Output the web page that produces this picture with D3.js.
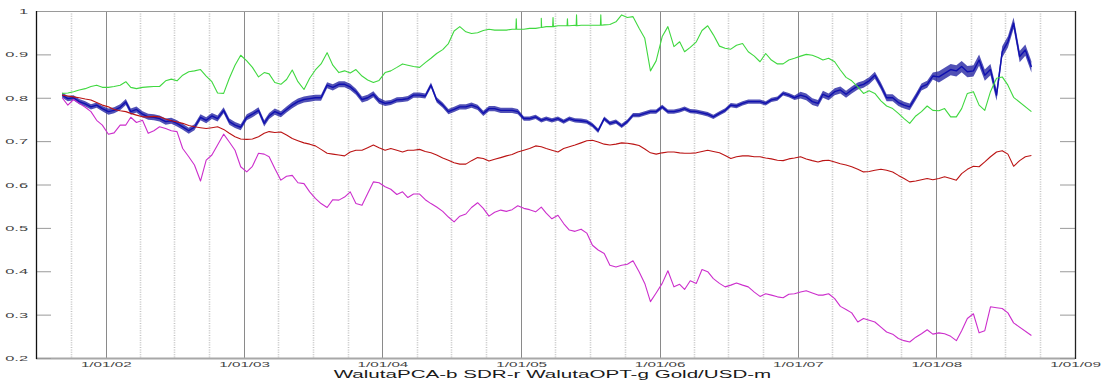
<!DOCTYPE html>
<html>
<head>
<meta charset="utf-8">
<script src="https://cdn.jsdelivr.net/npm/d3@7"></script>
<style>
  html, body { margin: 0; padding: 0; background: #fff; }
  svg { display: block; }
</style>
</head>
<body>
<svg id="chart" width="1106" height="388"></svg>
<script>
// Sampling dates: 8th and 23rd of every month, Sep 2001 .. Sep 2008
const dates = [];
for (let k = 0; k <= 84; k++) {
  dates.push(new Date(Date.UTC(2001, 8 + k, 8)));
  if (k < 84) dates.push(new Date(Date.UTC(2001, 8 + k, 23)));
}

const walutaPCA = [
  .806,.798,.800,.791,.786,.779,.783,.775,.768,.771,
  .778,.790,.768,.773,.762,.756,.755,.752,.745,.747,
  .741,.733,.724,.732,.755,.748,.758,.752,.771,.745,
  .737,.732,.755,.762,.771,.741,.758,.768,.762,.773,
  .783,.791,.796,.798,.800,.800,.829,.824,.831,.831,
  .825,.814,.796,.800,.808,.793,.787,.789,.795,.796,
  .798,.806,.806,.804,.829,.795,.783,.768,.773,.779,
  .779,.783,.778,.764,.775,.775,.771,.771,.771,.768,
  .752,.752,.756,.748,.752,.748,.752,.745,.752,.748,
  .747,.745,.737,.724,.752,.741,.745,.735,.745,.760,
  .760,.764,.768,.768,.779,.768,.768,.771,.775,.769,
  .768,.765,.762,.756,.764,.771,.783,.781,.787,.791,
  .791,.791,.787,.795,.798,.810,.806,.800,.806,.802,
  .791,.787,.808,.802,.814,.818,.808,.818,.827,.831,
  .839,.852,.827,.800,.800,.789,.783,.779,.802,.825,
  .831,.850,.848,.856,.865,.862,.872,.860,.862,.887,
  .852,.865,.806,.906,.929,.972,.895,.910,.871
];

// Typical day-to-day swing of the PCA basket around its level, by year
const pcaSwingYears = [2001, 2002, 2003, 2004, 2005, 2006, 2007, 2008];
const pcaSwing = [.006, .007, .007, .006, .005, .005, .008, .013];

const sdr = [
  .806,.804,.802,.800,.797,.795,.789,.783,.779,.773,
  .770,.768,.764,.760,.756,.756,.757,.756,.751,.747,
  .744,.741,.736,.733,.731,.729,.731,.733,.727,.718,
  .710,.705,.704,.705,.710,.718,.722,.720,.721,.714,
  .706,.701,.696,.693,.689,.681,.672,.670,.668,.666,
  .675,.679,.679,.685,.691,.685,.679,.683,.679,.675,
  .679,.679,.681,.676,.673,.668,.661,.656,.650,.647,
  .647,.655,.662,.660,.654,.658,.662,.666,.669,.675,
  .679,.683,.689,.687,.683,.679,.675,.683,.687,.691,
  .696,.701,.702,.698,.693,.691,.693,.696,.695,.693,
  .690,.682,.673,.670,.673,.675,.675,.673,.672,.672,
  .673,.676,.679,.676,.673,.667,.660,.664,.666,.666,
  .664,.664,.661,.659,.656,.655,.659,.661,.664,.659,
  .655,.652,.655,.656,.652,.648,.645,.641,.635,.629,
  .630,.633,.635,.633,.629,.621,.614,.606,.608,.611,
  .614,.611,.614,.618,.614,.610,.625,.635,.642,.641,
  .652,.664,.675,.678,.670,.642,.655,.664,.667
];

const walutaOPT = [
  .810,.811,.814,.818,.821,.826,.829,.824,.824,.826,
  .829,.837,.824,.821,.824,.825,.826,.826,.839,.843,
  .839,.852,.860,.862,.865,.850,.837,.811,.810,.845,
  .875,.898,.885,.870,.848,.858,.855,.835,.831,.842,
  .864,.837,.819,.845,.864,.878,.904,.875,.858,.862,
  .857,.865,.850,.841,.835,.840,.858,.862,.870,.878,
  .875,.872,.870,.881,.891,.902,.911,.925,.954,.964,
  .952,.948,.950,.955,.958,.956,.956,.956,.958,.958,
  .958,.960,.960,.962,.964,.964,.966,.966,.966,.967,
  .967,.967,.967,.967,.968,.969,.975,.991,.985,.987,
  .960,.937,.862,.885,.941,.964,.918,.929,.906,.916,
  .929,.955,.966,.945,.919,.914,.912,.921,.925,.906,
  .896,.883,.902,.887,.878,.878,.887,.891,.896,.900,
  .898,.893,.887,.891,.883,.864,.847,.839,.825,.810,
  .816,.810,.793,.781,.775,.764,.752,.741,.758,.768,
  .781,.771,.770,.775,.756,.756,.775,.810,.814,.783,
  .771,.814,.845,.848,.829,.801,null,null,.768
];

// One-day jumps of the OPT basket around 2005
const optSpikeDates = ["2004-12-19","2005-02-23","2005-03-26","2005-05-03","2005-05-27","2005-07-30"];
const optSpikeValues = [.982,.983,.985,.982,.991,.991];
const optSpikeBase = [.958,.962,.964,.966,.966,.967];

const goldUSD = [
  .800,.783,.796,.787,.778,.768,.748,.737,.716,.719,
  .737,.737,.755,.743,.748,.718,.724,.733,.729,.724,
  .722,.683,.664,.645,.608,.656,.668,.691,.716,.698,
  .679,.641,.629,.642,.672,.670,.664,.637,.610,.619,
  .621,.604,.602,.583,.568,.556,.547,.565,.564,.571,
  .583,.556,.552,.579,.606,.604,.595,.589,.577,.583,
  .570,.578,.578,.565,.556,.548,.538,.525,.514,.527,
  .532,.547,.558,.545,.527,.536,.541,.538,.542,.551,
  .545,.542,.537,.548,.534,.521,.529,.510,.495,.492,
  .497,.488,.460,.449,.441,.414,.410,.414,.416,.424,
  .399,.372,.330,.350,.372,.401,.364,.370,.358,.378,
  .372,.404,.399,.383,.372,.364,.368,.373,.368,.364,
  .352,.342,.348,.345,.341,.339,.347,.348,.352,.355,
  .350,.345,.345,.348,.337,.319,.312,.304,.283,.291,
  .287,.283,.271,.260,.255,.245,.240,.237,.248,.256,
  .265,.255,.258,.256,.250,.240,.263,.291,.302,.258,
  .263,.318,.316,.314,.304,.281,null,null,.252
];

const yTicks = [0.2, 0.3, 0.4, 0.5, 0.6, 0.7, 0.8, 0.9, 1];
const xLabel = "WalutaPCA-b SDR-r WalutaOPT-g Gold/USD-m";

const series = [
  { name: "WalutaPCA", values: walutaPCA, color: "#1010b0", width: 1.4 },
  { name: "SDR", values: sdr, color: "#bb1414", width: 1.1 },
  { name: "WalutaOPT", values: walutaOPT, color: "#3fd83f", width: 1.1 },
  { name: "Gold/USD", values: goldUSD, color: "#cc2ecc", width: 1.1 }
];

const parse = d3.utcParse("%Y-%m-%d");
const svg = d3.select("#chart");
const L = 36, R = 1075, T = 11, B = 358;

const x = d3.scaleUtc()
  .domain([new Date(Date.UTC(2001, 6, 1)), new Date(Date.UTC(2009, 0, 1))])
  .range([L, R]);
const y = d3.scaleLinear().domain([0.2, 1]).range([B, T]);

// Text in this figure is drawn wide; stretch glyphs horizontally
function widen(sel, sx) {
  sel.each(function () {
    const len = this.getComputedTextLength();
    if (len > 0) {
      d3.select(this).attr("textLength", len * sx).attr("lengthAdjust", "spacingAndGlyphs");
    }
  });
}

// Quarter grid (dotted) and year grid (solid)
const quarters = d3.utcMonth.every(3).range(new Date(Date.UTC(2001, 9, 1)), new Date(Date.UTC(2008, 10, 1)))
  .filter(d => d.getUTCMonth() !== 0);
svg.append("g").selectAll("line").data(quarters).join("line")
  .attr("x1", d => Math.round(x(d)) + 0.5).attr("x2", d => Math.round(x(d)) + 0.5)
  .attr("y1", T).attr("y2", B)
  .attr("stroke", "#c4c4c4").attr("stroke-width", 1.6)
  .attr("stroke-dasharray", "1,1.4");

const years = d3.utcYear.range(new Date(Date.UTC(2002, 0, 1)), new Date(Date.UTC(2008, 0, 2)));
svg.append("g").selectAll("line").data(years).join("line")
  .attr("x1", d => Math.round(x(d)) + 0.5).attr("x2", d => Math.round(x(d)) + 0.5)
  .attr("y1", T).attr("y2", B)
  .attr("stroke", "#8a8a8a").attr("stroke-width", 1);

// Series lines
const line = d3.line().x(d => x(d[0])).y(d => y(d[1]));
const swingAt = d => pcaSwing[pcaSwingYears.indexOf(d.getUTCFullYear())];

series.forEach(s => {
  let pts = dates.map((d, i) => [d, s.values[i]]).filter(p => p[1] != null);
  if (s.name === "WalutaOPT") {
    optSpikeDates.forEach((ds, j) => {
      const d = parse(ds);
      pts.push([d3.utcDay.offset(d, -1), optSpikeBase[j]]);
      pts.push([d, optSpikeValues[j]]);
      pts.push([d3.utcDay.offset(d, 1), optSpikeBase[j]]);
    });
    pts.sort((a, b) => a[0] - b[0]);
  }
  if (s.name === "WalutaPCA") {
    // daily noise band of the PCA basket
    svg.append("path").datum(pts)
      .attr("fill", "#2626a4").attr("fill-opacity", 0.8)
      .attr("d", d3.area()
        .x(d => x(d[0]))
        .y0(d => y(d[1] - swingAt(d[0])))
        .y1(d => y(d[1] + swingAt(d[0]))));
  }
  svg.append("path").datum(pts)
    .attr("fill", "none")
    .attr("stroke", s.color)
    .attr("stroke-width", s.width)
    .attr("stroke-linejoin", "round")
    .attr("d", line);
});

// Frame
svg.append("line").attr("x1", L).attr("x2", R).attr("y1", T + 0.5).attr("y2", T + 0.5)
  .attr("stroke", "#9a9a9a").attr("stroke-width", 1);
svg.append("line").attr("x1", L).attr("x2", R).attr("y1", B + 0.5).attr("y2", B + 0.5)
  .attr("stroke", "#a8a8a8").attr("stroke-width", 2);

// Left axis
const yAxis = svg.append("g").attr("transform", `translate(${L},0)`)
  .call(d3.axisLeft(y).tickValues(yTicks).tickSize(-15).tickPadding(8)
    .tickFormat(v => v === 1 ? "1" : v.toFixed(1)));
yAxis.select(".domain").remove();
yAxis.selectAll(".tick line").attr("stroke", "#9a9a9a");
yAxis.selectAll("text")
  .attr("font-family", "'Liberation Sans', Arial, sans-serif")
  .attr("font-size", 8).attr("fill", "#444");
widen(yAxis.selectAll("text"), 2.05);

// Right axis (ticks only)
const yAxisR = svg.append("g").attr("transform", `translate(${R},0)`)
  .call(d3.axisRight(y).tickValues(yTicks).tickSize(-15).tickFormat(""));
yAxisR.select(".domain").remove();
yAxisR.selectAll(".tick line").attr("stroke", "#9a9a9a");

svg.append("line").attr("x1", L + 0.5).attr("x2", L + 0.5).attr("y1", T).attr("y2", B + 1)
  .attr("stroke", "#111").attr("stroke-width", 1.3);
svg.append("line").attr("x1", R + 0.5).attr("x2", R + 0.5).attr("y1", T).attr("y2", B + 1)
  .attr("stroke", "#222").attr("stroke-width", 1.3);

// Bottom axis labels
const xAxis = svg.append("g").attr("transform", `translate(0,${B})`)
  .call(d3.axisBottom(x).ticks(d3.utcYear.every(1)).tickSize(0).tickPadding(3.6)
    .tickFormat(d3.utcFormat("%-d/%m/%y")));
xAxis.select(".domain").remove();
xAxis.selectAll("text")
  .attr("font-family", "'Liberation Sans', Arial, sans-serif")
  .attr("font-size", 8).attr("fill", "#444");
widen(xAxis.selectAll("text"), 1.9);

const lbl = svg.append("text")
  .attr("x", (L + R) / 2 - 3).attr("y", 378.3)
  .attr("text-anchor", "middle")
  .attr("font-family", "'Liberation Sans', Arial, sans-serif")
  .attr("font-size", 10.5).attr("fill", "#1a1a1a")
  .text(xLabel);
widen(lbl, 1.96);
</script>
</body>
</html>
